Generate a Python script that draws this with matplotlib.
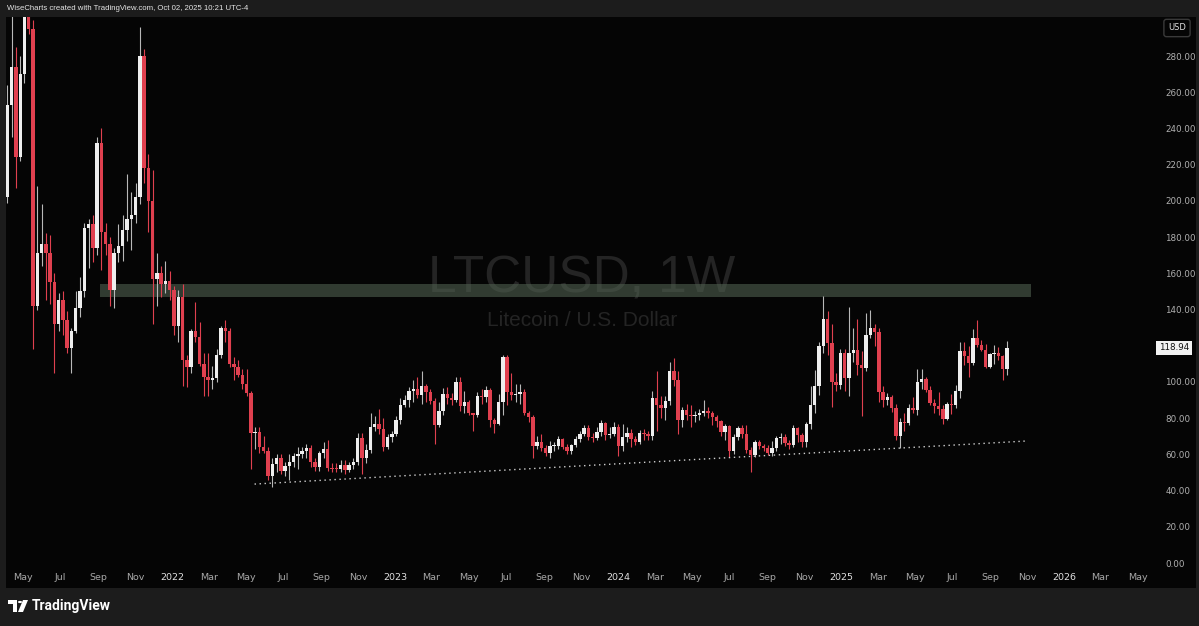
import matplotlib
matplotlib.use('Agg')
import matplotlib.pyplot as plt
from matplotlib.patches import Rectangle, Circle, Polygon
from matplotlib.transforms import blended_transform_factory
import numpy as np
import pandas as pd

# weekly LTCUSD candles, first bar = week of 2021-04-05
first_week = '2021-04-05'
first_open = 202.0
close = [253, 274, 224, 270, 380, 295, 142, 171, 176, 171,
         155, 132, 145, 134, 119, 128, 141, 150, 185, 187,
         174, 232, 183, 176, 151, 171, 175, 184, 190, 192,
         202, 280, 218, 200, 157, 160, 154, 156, 151, 131,
         147, 112, 108.5, 128, 125, 110, 103, 101, 102, 115,
         130, 128, 110, 108, 104, 99, 94, 72, 72.5, 64,
         62, 48, 54.5, 58, 51, 53.5, 56, 59, 60, 62,
         63.4, 56, 53, 61, 63, 52.5, 52, 51.8, 54, 51.5,
         54, 56, 69, 58, 62.5, 75, 77, 74, 64, 69.4,
         71, 79, 87.5, 90, 95, 96, 93, 97.6, 94.7, 89.6,
         76, 84, 93.4, 91, 90, 100, 86.5, 88.7, 82.7, 81.5,
         92.3, 91.5, 95.6, 79, 77, 88.7, 113.6, 94.7, 93, 93.5,
         94.7, 82.6, 80.8, 64.8, 66.6, 63.5, 61, 64.5, 64.8, 68.3,
         64.3, 61.6, 65, 68.7, 71.5, 74.8, 69.7, 69, 72.5, 77.2,
         70.8, 71, 75, 64.5, 69.7, 72, 68.3, 66.6, 72, 71,
         70, 91, 87.5, 85.8, 89.4, 105.9, 101.3, 79, 84.4, 82,
         81, 82, 82.7, 84, 83, 80.4, 78.3, 72.6, 75.5, 61.6,
         69.7, 74.3, 71.2, 62.4, 59.7, 66.6, 64.8, 63.6, 61, 63.6,
         69, 69.5, 66.3, 65.4, 74.3, 70.8, 67, 77, 87.3, 97.5,
         120, 135, 121.3, 100.2, 98.3, 116, 102, 116.2, 117.7, 109.4,
         107.5, 126, 129.6, 127.8, 94.7, 90, 91.5, 85.4, 70, 78,
         77.5, 85.4, 84.6, 100, 101.5, 95.5, 88.4, 86.5, 85, 79.7,
         88, 87.3, 95, 117, 114.4, 110.3, 124.2, 120.5, 117.7, 108.5,
         115.4, 116, 114.3, 106.91, 118.94]
high = [264, 335, 285, 280, 390, 413, 300, 208, 198, 182,
        181, 160, 149, 150, 139, 130, 150, 158, 188, 190,
        192, 235, 240, 188, 180, 174, 187, 192, 215, 205,
        210, 296, 284, 226, 217, 171, 164, 167, 161, 153,
        151, 154, 115, 129, 144, 133, 116, 116, 109, 118,
        131, 134, 130, 114, 112, 107, 107, 95, 75, 75,
        70, 64, 58, 60, 60, 56, 60, 61, 64, 64,
        66, 65, 58, 62, 67, 68, 55, 55, 57, 57,
        56, 58, 72, 72, 66, 83, 81, 85, 80, 71,
        73, 81, 91, 93, 97, 101, 103, 106, 99, 96,
        91, 89, 96.5, 97, 94, 103, 103, 95, 90, 83,
        94.6, 96, 98, 96.5, 80, 93.4, 115, 115, 104.8, 99,
        99, 96, 84, 82, 70, 71, 65, 67.5, 67, 70,
        69, 66, 66, 70, 73, 76, 76, 72, 75, 79,
        78, 75, 78, 77, 77, 75, 74, 70, 73.5, 74,
        73, 95, 106, 92, 92, 111, 113, 106, 86, 88,
        87, 84, 85, 90, 86, 84, 82, 79, 77, 76,
        71, 75.5, 76, 76, 64.3, 68, 68, 66, 65, 67.5,
        70, 71.7, 71, 68, 76, 75, 72, 78, 98, 106.5,
        122, 147.5, 139, 132, 105, 118, 118, 141.6, 130, 135,
        117, 138, 140, 132, 130, 98, 94, 93, 88, 80,
        83, 88, 91.9, 107.2, 107, 103, 97.8, 90.4, 94.5, 87.5,
        89, 93.4, 98.3, 122.2, 122.2, 120, 129, 134.3, 123, 121,
        116, 120.5, 119.5, 115, 122.69]
low = [199, 235, 207, 222, 265, 292, 118, 140, 164, 145,
       143, 105, 128, 126, 116, 105, 127, 136, 147, 163,
       166, 170, 162, 170, 142, 141, 166, 167, 178, 173,
       188, 198, 210, 183, 132, 142, 147, 149, 145, 126,
       122, 98, 97, 105, 122, 109, 92, 92, 96, 100,
       113, 122, 108, 101, 103, 96, 92, 52, 63, 61,
       61, 46, 42, 50, 49, 48, 46, 53, 52, 58,
       58, 53, 51, 51, 58, 51, 50, 50, 50, 49,
       50, 52, 54, 49, 55, 61, 73, 71, 62, 63,
       67, 70, 77, 86, 86, 89, 91, 88, 89, 88,
       66, 75, 82, 88, 87, 89, 84, 83, 82, 73,
       80.5, 88, 89, 75, 72, 76, 82, 87.5, 90, 89,
       88, 82, 78, 58, 63, 62, 59, 58, 62, 63,
       63, 60, 60, 64, 67, 70, 68, 67, 68, 70,
       68, 69, 70, 59, 62, 67, 64, 65, 66, 68,
       68, 68, 73, 80, 79, 87, 98, 71, 75, 79,
       75, 78, 79, 81, 80, 76, 75, 70, 68, 58.5,
       60, 68, 69, 60.5, 50.5, 58.8, 63, 62, 59.5, 59,
       62, 66, 64.5, 63, 64, 67, 64, 64, 74, 83,
       93, 116, 115, 86, 95, 96, 95, 92, 111, 104,
       81, 106, 124, 120, 89, 86, 87, 83.6, 68, 63.4,
       73, 76, 83, 81.8, 96, 94.5, 87, 82.7, 81.8, 76.6,
       79, 82.2, 85.5, 91, 109.5, 102.9, 109.4, 119.5, 117, 107.5,
       107.5, 110, 112, 101, 103.92]

# resistance zone and rising support line
zone_dates = ['2021-09-03', '2025-11-08']
zone_prices = [147.0, 154.3]
trend_dates = ['2022-05-15', '2025-11-01']
trend_prices = [43.6, 67.4]

price_ticks = [p for p in range(0, 281, 20) if p != 120]  # 120 hidden by last-price tag
last_price = 118.94

W, H = 1199, 626
BG = '#050505'
FRAME = '#1c1c1c'
UP = '#eeeeee'
DOWN = '#e0404f'

t0 = pd.Timestamp(first_week)
def day(d):
    return (pd.Timestamp(d) - t0).days

n = len(close)
x = np.arange(n) * 7.0
c = np.array(close, float)
o = np.r_[first_open, c[:-1]]
hi = np.array(high, float)
lo = np.array(low, float)
up = c >= o

fig = plt.figure(figsize=(W / 100, H / 100), dpi=100, facecolor=FRAME)
fig.patches.append(Rectangle((6 / W, (H - 588) / H), (1196 - 6) / W, (588 - 17) / H,
                             transform=fig.transFigure, facecolor=BG, edgecolor='none', zorder=-10))

ax = fig.add_axes([6 / W, (H - 567) / H, (1153 - 6) / W, (567 - 17) / H])
ax.set_zorder(5)
ax.set_facecolor(BG)
ax.set_xlim((6 - 7.4) / 0.61026, (1153 - 7.4) / 0.61026)
ax.set_ylim(-2.2, (563 - 17) / 1.8107)
for s in ax.spines.values():
    s.set_visible(False)

# watermark
ax.text(0.502, 0.524, 'LTCUSD, 1W', transform=ax.transAxes, ha='center', va='center',
        fontsize=37, color='#242424', family='Liberation Sans', zorder=0)
ax.text(0.502, 0.449, 'Litecoin / U.S. Dollar', transform=ax.transAxes, ha='center', va='center',
        fontsize=15, color='#242424', family='Liberation Sans', zorder=0)

# zone
z0, z1 = day(zone_dates[0]), day(zone_dates[1])
ax.add_patch(Rectangle((z0, zone_prices[0]), z1 - z0, zone_prices[1] - zone_prices[0],
                       facecolor='#4f604f', alpha=0.6, edgecolor='none', zorder=1))

# candles
wick_col = np.where(up, '#b8b8b8', DOWN)
ax.vlines(x, lo, hi, colors=wick_col, linewidth=0.8, zorder=2)
body_h = np.maximum(np.abs(c - o), 0.6)
body_b = np.minimum(c, o)
ax.bar(x, body_h, bottom=body_b, width=5.6, color=np.where(up, UP, DOWN),
       edgecolor='none', zorder=3)

# support line
ax.plot([day(d) for d in trend_dates], trend_prices, color='#d0d0d0',
        linewidth=1.0, linestyle=(0, (1, 2.6)), zorder=4)

# axes ticks
months = pd.date_range('2021-05-01', '2026-05-01', freq='2MS')
ax.set_xticks([day(m) for m in months])
ax.set_xticklabels([str(m.year) if m.month == 1 else m.strftime('%b') for m in months])
for lab, m in zip(ax.get_xticklabels(), months):
    lab.set_color('#e0e0e0' if m.month == 1 else '#a8a8a8')
ax.tick_params(axis='x', length=0, pad=4, labelsize=6.8)

ax.yaxis.tick_right()
ax.set_yticks(price_ticks)
ax.set_yticklabels(['%.2f' % p for p in price_ticks])
ax.tick_params(axis='y', length=0, pad=9, labelsize=6.3, labelcolor='#b0b0b0')

tr = blended_transform_factory(ax.transAxes, ax.transData)
ax.text(1.0 + 6 / 1147, last_price, '%.2f' % last_price, transform=tr, ha='left', va='center',
        fontsize=6.3, color='#111111',
        bbox=dict(boxstyle='square,pad=0.3', facecolor='#f2f2f2', edgecolor='none'))

fig.text(1177 / W, 1 - 28 / H, 'USD', ha='center', va='center', fontsize=6, color='#e0e0e0',
         bbox=dict(boxstyle='round,pad=0.5,rounding_size=0.3', facecolor=BG, edgecolor='#3a3a3a'))

# header / legend
fig.text(7 / W, 1 - 9 / H, 'WiseCharts created with TradingView.com, Oct 02, 2025 10:21 UTC-4',
         ha='left', va='center', fontsize=5.6, color='#e6e6e6', family='Liberation Sans')
fig.text(11 / W, 1 - 27 / H,
         'Litecoin / U.S. Dollar \u00b7 1W \u00b7 CRYPTO  O106.91  H122.69  L103.92  C118.94  '
         '+12.03 (+11.25%)  +3.83 (+3.33%)',
         ha='left', va='center', fontsize=5.6, color='#d0d0d0', family='Liberation Sans')

# footer logo
def px(xp, yp):
    return (xp / W, 1 - yp / H)
fig.patches.append(Polygon([px(8, 600), px(17, 600), px(17, 612), px(13, 612), px(13, 604), px(8, 604)],
                           closed=True, transform=fig.transFigure, facecolor='white', edgecolor='none'))
fig.patches.append(Circle(px(20, 602), 2.1 / W, transform=fig.transFigure, facecolor='white', edgecolor='none'))
fig.patches.append(Polygon([px(23, 600), px(28, 600), px(23, 612), px(18, 612)],
                           closed=True, transform=fig.transFigure, facecolor='white', edgecolor='none'))
fig.text(32 / W, 1 - 606 / H, 'TradingView', ha='left', va='center', fontsize=10,
         fontweight='bold', color='white', family='Roboto')

fig.savefig('out.png', dpi=100, facecolor=FRAME)
